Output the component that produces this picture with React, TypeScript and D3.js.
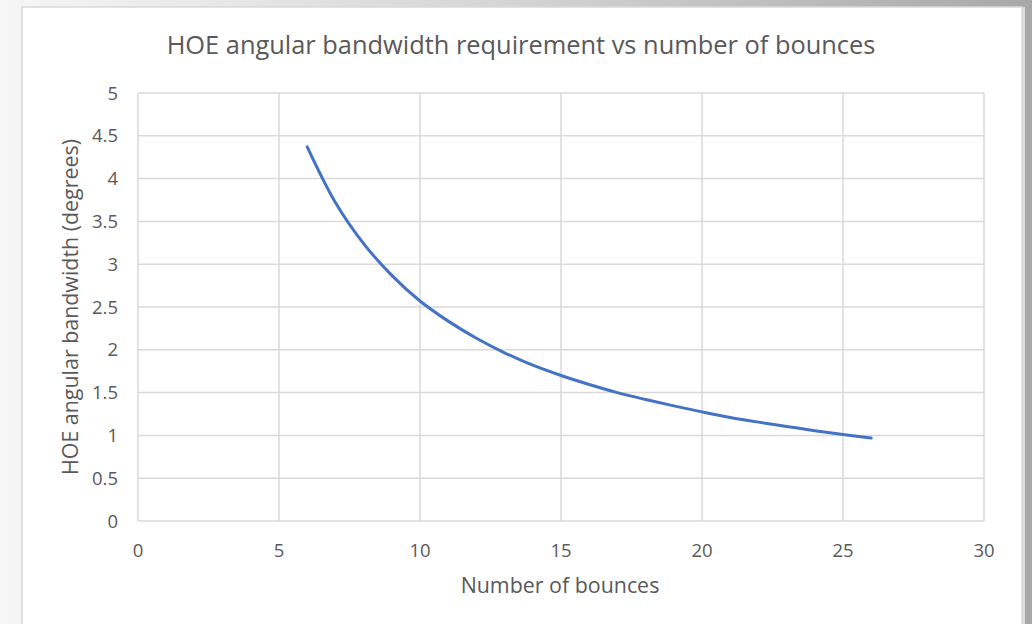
import React, { useRef, useEffect } from 'react';
import * as d3 from 'd3';

const BOUNCES = [6, 7, 8, 9, 10, 11, 12, 13, 14, 15, 16, 17, 18, 19, 20, 21, 22, 23, 24, 25, 26];
const BANDWIDTH = [4.37, 3.72, 3.24, 2.87, 2.57, 2.335, 2.135, 1.965, 1.82, 1.7, 1.595, 1.5, 1.42, 1.345, 1.275, 1.21, 1.155, 1.105, 1.055, 1.01, 0.97];

const X_TICKS = [0, 5, 10, 15, 20, 25, 30];
const Y_TICKS = [0, 0.5, 1, 1.5, 2, 2.5, 3, 3.5, 4, 4.5, 5];

const TITLE = "HOE angular bandwidth requirement vs number of bounces";
const X_LABEL = "Number of bounces";
const Y_LABEL = "HOE angular bandwidth (degrees)";

const W = 1032;
const H = 624;
const FONT = "'Open Sans', sans-serif";
const TEXT_COLOR = "#595959";
const GRID_COLOR = "#d9d9d9";

const App: React.FC = () => {
    const svgRef = useRef<SVGSVGElement>(null);

    useEffect(() => {
        if (!svgRef.current) return;
        const svg = d3.select(svgRef.current);
        svg.selectAll("*").remove();

        // backdrop behind the chart panel
        const defs = svg.append("defs");
        const grad = defs.append("linearGradient")
            .attr("id", "bg")
            .attr("x1", "0").attr("y1", "0")
            .attr("x2", "1").attr("y2", "0");
        grad.append("stop").attr("offset", "0").attr("stop-color", "#f6f6f6");
        grad.append("stop").attr("offset", "0.5").attr("stop-color", "#d4d4d4");
        grad.append("stop").attr("offset", "1").attr("stop-color", "#a8a8a8");

        svg.append("rect")
            .attr("width", W).attr("height", H)
            .attr("fill", "url(#bg)");

        svg.append("rect")
            .attr("x", 1022).attr("y", 7)
            .attr("width", 3).attr("height", H)
            .attr("fill", "#dcdcdc");

        svg.append("rect")
            .attr("x", 22).attr("y", 7)
            .attr("width", 1000).attr("height", H + 10)
            .attr("fill", "#fff")
            .attr("stroke", GRID_COLOR)
            .attr("stroke-width", 1.5);

        const xScale = d3.scaleLinear().domain([0, 30]).range([138, 984]);
        const yScale = d3.scaleLinear().domain([0, 5]).range([521, 93]);

        const grid = svg.append("g");
        X_TICKS.forEach(t => {
            grid.append("line")
                .attr("x1", xScale(t)).attr("x2", xScale(t))
                .attr("y1", yScale(0)).attr("y2", yScale(5))
                .attr("stroke", GRID_COLOR)
                .attr("stroke-width", 1.5);
        });
        Y_TICKS.forEach(t => {
            grid.append("line")
                .attr("x1", xScale(0)).attr("x2", xScale(30))
                .attr("y1", yScale(t)).attr("y2", yScale(t))
                .attr("stroke", GRID_COLOR)
                .attr("stroke-width", 1.5);
        });

        svg.append("g")
            .selectAll("text")
            .data(Y_TICKS)
            .join("text")
            .attr("x", 118)
            .attr("y", d => yScale(d))
            .attr("dy", "0.36em")
            .attr("text-anchor", "end")
            .attr("fill", TEXT_COLOR)
            .style("font-family", FONT)
            .style("font-size", "18.5px")
            .text(d => String(d));

        svg.append("g")
            .selectAll("text")
            .data(X_TICKS)
            .join("text")
            .attr("x", d => xScale(d))
            .attr("y", 550)
            .attr("dy", "0.36em")
            .attr("text-anchor", "middle")
            .attr("fill", TEXT_COLOR)
            .style("font-family", FONT)
            .style("font-size", "18.5px")
            .text(d => String(d));

        const line = d3.line<number>()
            .x((_, i) => xScale(BOUNCES[i]))
            .y(d => yScale(d))
            .curve(d3.curveCatmullRom.alpha(0.5));

        svg.append("path")
            .datum(BANDWIDTH)
            .attr("d", line)
            .attr("fill", "none")
            .attr("stroke", "#4472c4")
            .attr("stroke-width", 3)
            .attr("stroke-linecap", "round");

        svg.append("text")
            .attr("x", 521)
            .attr("y", 45)
            .attr("dy", "0.36em")
            .attr("text-anchor", "middle")
            .attr("fill", TEXT_COLOR)
            .style("font-family", FONT)
            .style("font-size", "25.4px")
            .text(TITLE);

        svg.append("text")
            .attr("x", 560)
            .attr("y", 585)
            .attr("dy", "0.36em")
            .attr("text-anchor", "middle")
            .attr("fill", TEXT_COLOR)
            .style("font-family", FONT)
            .style("font-size", "21.4px")
            .text(X_LABEL);

        svg.append("text")
            .attr("transform", `translate(70, ${yScale(2.5)}) rotate(-90)`)
            .attr("dy", "0.36em")
            .attr("text-anchor", "middle")
            .attr("fill", TEXT_COLOR)
            .style("font-family", FONT)
            .style("font-size", "21.4px")
            .text(Y_LABEL);
    }, []);

    return (
        <div style={{ position: 'fixed', left: 0, top: 0, width: W, height: H }}>
            <svg ref={svgRef} width={W} height={H} style={{ display: 'block' }} />
        </div>
    );
};

export default App;
